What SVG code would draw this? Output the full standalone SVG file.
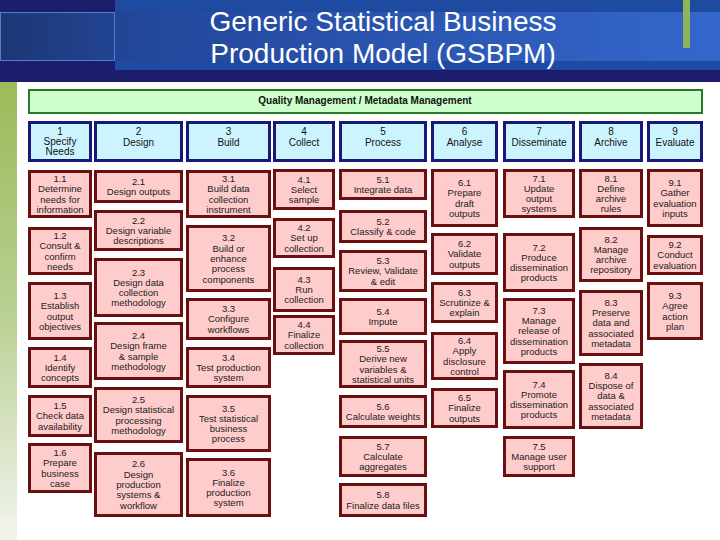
<svg xmlns="http://www.w3.org/2000/svg" width="720" height="540" viewBox="0 0 720 540">
<style>
.ph{fill:#ccf4ff;stroke:#18187a;stroke-width:3}
.sp{fill:#ffcccc;stroke:#6a1010;stroke-width:3}
text{font-family:"Liberation Sans",Arial,sans-serif;text-anchor:middle}
.t{font-size:9.5px;fill:#222}
.h{font-size:10px;fill:#111}
.q{font-size:10px;font-weight:bold;fill:#111}
.title{font-size:28px;fill:#ffffff}
</style>
<defs>
<linearGradient id="band" x1="0" y1="0" x2="1" y2="0">
<stop offset="0" stop-color="#1e3774"/>
<stop offset="0.2" stop-color="#23479a"/>
<stop offset="1" stop-color="#3467cc"/>
</linearGradient>
<linearGradient id="side" x1="0" y1="0" x2="0" y2="1">
<stop offset="0" stop-color="#9bbb59"/>
<stop offset="0.5" stop-color="#b9cf92"/>
<stop offset="1" stop-color="#f2f4ee"/>
</linearGradient>
</defs>
<rect x="0" y="0" width="720" height="540" fill="#ffffff"/>
<g id="header">
<rect x="0" y="0" width="720" height="82" fill="#1c1d6c"/>
<rect x="115" y="0" width="605" height="70" fill="#1f4aa2"/>
<rect x="0" y="12" width="720" height="49" fill="url(#band)"/>
<rect x="0.5" y="12.5" width="114" height="48" fill="none" stroke="#4f7fd0" stroke-width="1"/>
<rect x="683" y="0" width="7" height="48" fill="#8fb55a"/>
<text class="title" x="383" y="31">Generic Statistical Business</text>
<text class="title" x="383" y="63">Production Model (GSBPM)</text>
</g>
<rect x="0" y="82" width="17" height="458" fill="url(#side)"/>
<g id="quality">
<rect x="29" y="90" width="673" height="23" fill="#ccffcc" stroke="#2a7a2a" stroke-width="2"/>
<text class="q" x="365" y="104">Quality Management / Metadata Management</text>
</g>
<g id="connectors"/>
<g id="phase1"><rect class="ph" x="29.5" y="122.5" width="61" height="38"/><text class="h" x="60" y="134.5">1</text><text class="h" x="60" y="145">Specify</text><text class="h" x="60" y="155">Needs</text></g>
<g id="phase2"><rect class="ph" x="95.5" y="122.5" width="86" height="38"/><text class="h" x="138.5" y="134.5">2</text><text class="h" x="138.5" y="145.5">Design</text></g>
<g id="phase3"><rect class="ph" x="187.5" y="122.5" width="82" height="38"/><text class="h" x="228.5" y="134.5">3</text><text class="h" x="228.5" y="145.5">Build</text></g>
<g id="phase4"><rect class="ph" x="274.5" y="122.5" width="59" height="38"/><text class="h" x="304" y="134.5">4</text><text class="h" x="304" y="145.5">Collect</text></g>
<g id="phase5"><rect class="ph" x="340.5" y="122.5" width="85" height="38"/><text class="h" x="383" y="134.5">5</text><text class="h" x="383" y="145.5">Process</text></g>
<g id="phase6"><rect class="ph" x="432.5" y="122.5" width="64" height="38"/><text class="h" x="464.5" y="134.5">6</text><text class="h" x="464.5" y="145.5">Analyse</text></g>
<g id="phase7"><rect class="ph" x="504.5" y="122.5" width="69" height="38"/><text class="h" x="539" y="134.5">7</text><text class="h" x="539" y="145.5">Disseminate</text></g>
<g id="phase8"><rect class="ph" x="580.5" y="122.5" width="61" height="38"/><text class="h" x="611" y="134.5">8</text><text class="h" x="611" y="145.5">Archive</text></g>
<g id="phase9"><rect class="ph" x="648.5" y="122.5" width="53" height="38"/><text class="h" x="675" y="134.5">9</text><text class="h" x="675" y="145.5">Evaluate</text></g>

<g id="s1_1"><rect class="sp" x="29.5" y="171.5" width="61" height="45"/><text class="t" x="60" y="182">1.1</text><text class="t" x="60" y="192.3">Determine</text><text class="t" x="60" y="202.6">needs for</text><text class="t" x="60" y="212.9">information</text></g>
<g id="s1_2"><rect class="sp" x="29.5" y="228.5" width="61" height="45"/><text class="t" x="60" y="239">1.2</text><text class="t" x="60" y="249.3">Consult &amp;</text><text class="t" x="60" y="259.6">confirm</text><text class="t" x="60" y="269.9">needs</text></g>
<g id="s1_3"><rect class="sp" x="29.5" y="283.5" width="61" height="55"/><text class="t" x="60" y="299">1.3</text><text class="t" x="60" y="309.3">Establish</text><text class="t" x="60" y="319.6">output</text><text class="t" x="60" y="329.9">objectives</text></g>
<g id="s1_4"><rect class="sp" x="29.5" y="348.5" width="61" height="38"/><text class="t" x="60" y="360.6">1.4</text><text class="t" x="60" y="370.9">Identify</text><text class="t" x="60" y="381.2">concepts</text></g>
<g id="s1_5"><rect class="sp" x="29.5" y="396.5" width="61" height="39"/><text class="t" x="60" y="409.1">1.5</text><text class="t" x="60" y="419.4">Check data</text><text class="t" x="60" y="429.7">availability</text></g>
<g id="s1_6"><rect class="sp" x="29.5" y="444.5" width="61" height="47"/><text class="t" x="60" y="456">1.6</text><text class="t" x="60" y="466.3">Prepare</text><text class="t" x="60" y="476.6">business</text><text class="t" x="60" y="486.9">case</text></g>

<g id="s2_1"><rect class="sp" x="95.5" y="171.5" width="86" height="30"/><text class="t" x="138.5" y="184.8">2.1</text><text class="t" x="138.5" y="195.1">Design outputs</text></g>
<g id="s2_2"><rect class="sp" x="95.5" y="211.5" width="86" height="38"/><text class="t" x="138.5" y="223.6">2.2</text><text class="t" x="138.5" y="233.9">Design variable</text><text class="t" x="138.5" y="244.2">descriptions</text></g>
<g id="s2_3"><rect class="sp" x="95.5" y="259.5" width="86" height="56"/><text class="t" x="138.5" y="275.5">2.3</text><text class="t" x="138.5" y="285.8">Design data</text><text class="t" x="138.5" y="296.1">collection</text><text class="t" x="138.5" y="306.4">methodology</text></g>
<g id="s2_4"><rect class="sp" x="95.5" y="323.5" width="86" height="55"/><text class="t" x="138.5" y="339">2.4</text><text class="t" x="138.5" y="349.3">Design frame</text><text class="t" x="138.5" y="359.6">&amp; sample</text><text class="t" x="138.5" y="369.9">methodology</text></g>
<g id="s2_5"><rect class="sp" x="95.5" y="388.5" width="86" height="53"/><text class="t" x="138.5" y="403">2.5</text><text class="t" x="138.5" y="413.3">Design statistical</text><text class="t" x="138.5" y="423.6">processing</text><text class="t" x="138.5" y="433.9">methodology</text></g>
<g id="s2_6"><rect class="sp" x="95.5" y="453.5" width="86" height="62"/><text class="t" x="138.5" y="467.3">2.6</text><text class="t" x="138.5" y="477.6">Design</text><text class="t" x="138.5" y="487.9">production</text><text class="t" x="138.5" y="498.2">systems &amp;</text><text class="t" x="138.5" y="508.5">workflow</text></g>

<g id="s3_1"><rect class="sp" x="187.5" y="171.5" width="82" height="45"/><text class="t" x="228.5" y="182">3.1</text><text class="t" x="228.5" y="192.3">Build data</text><text class="t" x="228.5" y="202.6">collection</text><text class="t" x="228.5" y="212.9">instrument</text></g>
<g id="s3_2"><rect class="sp" x="187.5" y="226.5" width="82" height="64"/><text class="t" x="228.5" y="241.3">3.2</text><text class="t" x="228.5" y="251.6">Build or</text><text class="t" x="228.5" y="261.9">enhance</text><text class="t" x="228.5" y="272.2">process</text><text class="t" x="228.5" y="282.5">components</text></g>
<g id="s3_3"><rect class="sp" x="187.5" y="299.5" width="82" height="39"/><text class="t" x="228.5" y="312.1">3.3</text><text class="t" x="228.5" y="322.4">Configure</text><text class="t" x="228.5" y="332.7">workflows</text></g>
<g id="s3_4"><rect class="sp" x="187.5" y="348.5" width="82" height="38"/><text class="t" x="228.5" y="360.6">3.4</text><text class="t" x="228.5" y="370.9">Test production</text><text class="t" x="228.5" y="381.2">system</text></g>
<g id="s3_5"><rect class="sp" x="187.5" y="396.5" width="82" height="54"/><text class="t" x="228.5" y="411.5">3.5</text><text class="t" x="228.5" y="421.8">Test statistical</text><text class="t" x="228.5" y="432.1">business</text><text class="t" x="228.5" y="442.4">process</text></g>
<g id="s3_6"><rect class="sp" x="187.5" y="459.5" width="82" height="56"/><text class="t" x="228.5" y="475.5">3.6</text><text class="t" x="228.5" y="485.8">Finalize</text><text class="t" x="228.5" y="496.1">production</text><text class="t" x="228.5" y="506.4">system</text></g>

<g id="s4_1"><rect class="sp" x="274.5" y="170.5" width="59" height="38"/><text class="t" x="304" y="182.6">4.1</text><text class="t" x="304" y="192.9">Select</text><text class="t" x="304" y="203.2">sample</text></g>
<g id="s4_2"><rect class="sp" x="274.5" y="219.5" width="59" height="37"/><text class="t" x="304" y="231.1">4.2</text><text class="t" x="304" y="241.4">Set up</text><text class="t" x="304" y="251.7">collection</text></g>
<g id="s4_3"><rect class="sp" x="274.5" y="268.5" width="59" height="42"/><text class="t" x="304" y="282.6">4.3</text><text class="t" x="304" y="292.9">Run</text><text class="t" x="304" y="303.2">collection</text></g>
<g id="s4_4"><rect class="sp" x="274.5" y="316.5" width="59" height="37"/><text class="t" x="304" y="328.1">4.4</text><text class="t" x="304" y="338.4">Finalize</text><text class="t" x="304" y="348.7">collection</text></g>

<g id="s5_1"><rect class="sp" x="340.5" y="170.5" width="85" height="28"/><text class="t" x="383" y="182.8">5.1</text><text class="t" x="383" y="193.1">Integrate data</text></g>
<g id="s5_2"><rect class="sp" x="340.5" y="211.5" width="85" height="30"/><text class="t" x="383" y="224.8">5.2</text><text class="t" x="383" y="235.1">Classify &amp; code</text></g>
<g id="s5_3"><rect class="sp" x="340.5" y="251.5" width="85" height="39"/><text class="t" x="383" y="264.1">5.3</text><text class="t" x="383" y="274.4">Review, Validate</text><text class="t" x="383" y="284.7">&amp; edit</text></g>
<g id="s5_4"><rect class="sp" x="340.5" y="299.5" width="85" height="34"/><text class="t" x="383" y="314.8">5.4</text><text class="t" x="383" y="325.1">Impute</text></g>
<g id="s5_5"><rect class="sp" x="340.5" y="341.5" width="85" height="45"/><text class="t" x="383" y="352">5.5</text><text class="t" x="383" y="362.3">Derive new</text><text class="t" x="383" y="372.6">variables &amp;</text><text class="t" x="383" y="382.9">statistical units</text></g>
<g id="s5_6"><rect class="sp" x="340.5" y="396.5" width="85" height="30"/><text class="t" x="383" y="409.8">5.6</text><text class="t" x="383" y="420.1">Calculate weights</text></g>
<g id="s5_7"><rect class="sp" x="340.5" y="437.5" width="85" height="38"/><text class="t" x="383" y="449.6">5.7</text><text class="t" x="383" y="459.9">Calculate</text><text class="t" x="383" y="470.2">aggregates</text></g>
<g id="s5_8"><rect class="sp" x="340.5" y="484.5" width="85" height="31"/><text class="t" x="383" y="498.3">5.8</text><text class="t" x="383" y="508.6">Finalize data files</text></g>

<g id="s6_1"><rect class="sp" x="432.5" y="170.5" width="64" height="55"/><text class="t" x="464.5" y="186">6.1</text><text class="t" x="464.5" y="196.3">Prepare</text><text class="t" x="464.5" y="206.6">draft</text><text class="t" x="464.5" y="216.9">outputs</text></g>
<g id="s6_2"><rect class="sp" x="432.5" y="234.5" width="64" height="39"/><text class="t" x="464.5" y="247.1">6.2</text><text class="t" x="464.5" y="257.4">Validate</text><text class="t" x="464.5" y="267.7">outputs</text></g>
<g id="s6_3"><rect class="sp" x="432.5" y="283.5" width="64" height="38"/><text class="t" x="464.5" y="295.6">6.3</text><text class="t" x="464.5" y="305.9">Scrutinize &amp;</text><text class="t" x="464.5" y="316.2">explain</text></g>
<g id="s6_4"><rect class="sp" x="432.5" y="333.5" width="64" height="45"/><text class="t" x="464.5" y="344">6.4</text><text class="t" x="464.5" y="354.3">Apply</text><text class="t" x="464.5" y="364.6">disclosure</text><text class="t" x="464.5" y="374.9">control</text></g>
<g id="s6_5"><rect class="sp" x="432.5" y="389.5" width="64" height="37"/><text class="t" x="464.5" y="401.1">6.5</text><text class="t" x="464.5" y="411.4">Finalize</text><text class="t" x="464.5" y="421.7">outputs</text></g>

<g id="s7_1"><rect class="sp" x="504.5" y="170.5" width="69" height="46"/><text class="t" x="539" y="181.5">7.1</text><text class="t" x="539" y="191.8">Update</text><text class="t" x="539" y="202.1">output</text><text class="t" x="539" y="212.4">systems</text></g>
<g id="s7_2"><rect class="sp" x="504.5" y="234.5" width="69" height="56"/><text class="t" x="539" y="250.5">7.2</text><text class="t" x="539" y="260.8">Produce</text><text class="t" x="539" y="271.1">dissemination</text><text class="t" x="539" y="281.4">products</text></g>
<g id="s7_3"><rect class="sp" x="504.5" y="299.5" width="69" height="63"/><text class="t" x="539" y="313.8">7.3</text><text class="t" x="539" y="324.1">Manage</text><text class="t" x="539" y="334.4">release of</text><text class="t" x="539" y="344.7">dissemination</text><text class="t" x="539" y="355">products</text></g>
<g id="s7_4"><rect class="sp" x="504.5" y="371.5" width="69" height="56"/><text class="t" x="539" y="387.5">7.4</text><text class="t" x="539" y="397.8">Promote</text><text class="t" x="539" y="408.1">dissemination</text><text class="t" x="539" y="418.4">products</text></g>
<g id="s7_5"><rect class="sp" x="504.5" y="437.5" width="69" height="38"/><text class="t" x="539" y="449.6">7.5</text><text class="t" x="539" y="459.9">Manage user</text><text class="t" x="539" y="470.2">support</text></g>

<g id="s8_1"><rect class="sp" x="580.5" y="170.5" width="61" height="46"/><text class="t" x="611" y="181.5">8.1</text><text class="t" x="611" y="191.8">Define</text><text class="t" x="611" y="202.1">archive</text><text class="t" x="611" y="212.4">rules</text></g>
<g id="s8_2"><rect class="sp" x="580.5" y="228.5" width="61" height="52"/><text class="t" x="611" y="242.5">8.2</text><text class="t" x="611" y="252.8">Manage</text><text class="t" x="611" y="263.1">archive</text><text class="t" x="611" y="273.4">repository</text></g>
<g id="s8_3"><rect class="sp" x="580.5" y="291.5" width="61" height="63"/><text class="t" x="611" y="305.8">8.3</text><text class="t" x="611" y="316.1">Preserve</text><text class="t" x="611" y="326.4">data and</text><text class="t" x="611" y="336.7">associated</text><text class="t" x="611" y="347">metadata</text></g>
<g id="s8_4"><rect class="sp" x="580.5" y="364.5" width="61" height="63"/><text class="t" x="611" y="378.8">8.4</text><text class="t" x="611" y="389.1">Dispose of</text><text class="t" x="611" y="399.4">data &amp;</text><text class="t" x="611" y="409.7">associated</text><text class="t" x="611" y="420">metadata</text></g>

<g id="s9_1"><rect class="sp" x="648.5" y="170.5" width="53" height="55"/><text class="t" x="675" y="186">9.1</text><text class="t" x="675" y="196.3">Gather</text><text class="t" x="675" y="206.6">evaluation</text><text class="t" x="675" y="216.9">inputs</text></g>
<g id="s9_2"><rect class="sp" x="648.5" y="236.5" width="53" height="37"/><text class="t" x="675" y="248.1">9.2</text><text class="t" x="675" y="258.4">Conduct</text><text class="t" x="675" y="268.7">evaluation</text></g>
<g id="s9_3"><rect class="sp" x="648.5" y="283.5" width="53" height="55"/><text class="t" x="675" y="299">9.3</text><text class="t" x="675" y="309.3">Agree</text><text class="t" x="675" y="319.6">action</text><text class="t" x="675" y="329.9">plan</text></g>
</svg>
